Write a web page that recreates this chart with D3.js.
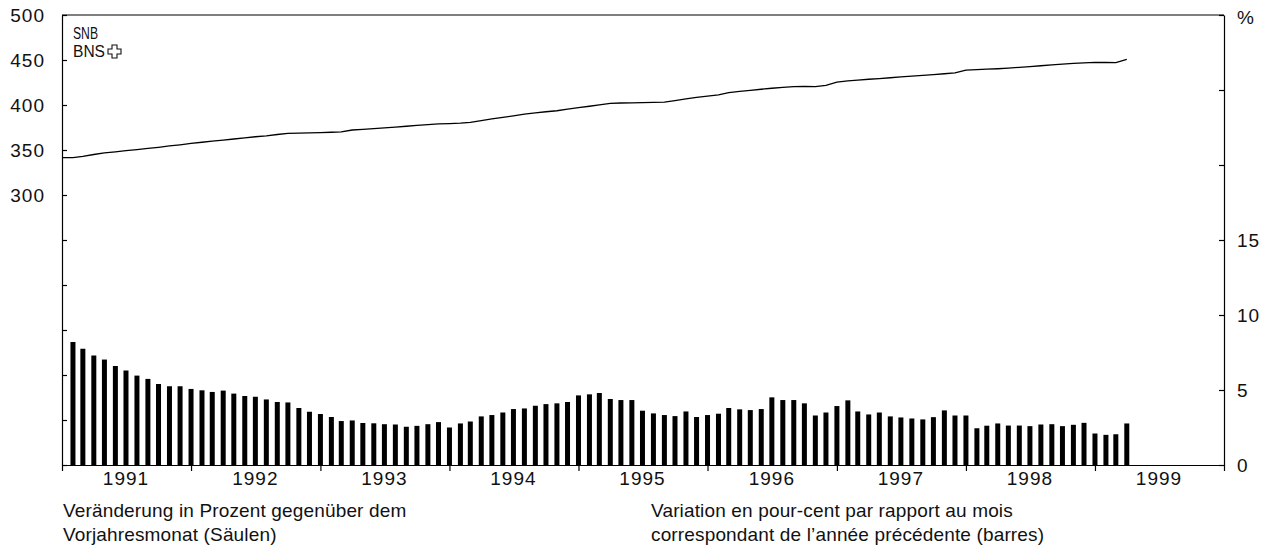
<!DOCTYPE html>
<html>
<head>
<meta charset="utf-8">
<script src="https://cdn.jsdelivr.net/npm/d3@7"></script>
<style>
  body { margin: 0; background: #fff; }
  svg { display: block; font-family: "Liberation Sans", Arial, sans-serif; }
  .axis text { font-size: 19px; fill: #111; letter-spacing: 1px; }
  .axis line, .axis path { stroke: #000; stroke-width: 1.2; }
  .note { font-size: 19px; fill: #111; letter-spacing: 0.15px; }
</style>
</head>
<body>
<svg width="1266" height="547"></svg>
<script>
// monthly change vs. same month of previous year, %, Jan 1991 - Mar 1999 (bars)
var change = [
  8.2, 7.75, 7.3, 7.03, 6.6, 6.3, 5.96, 5.74, 5.4, 5.25, 5.25, 5.07,
  4.98, 4.87, 4.96, 4.76, 4.6, 4.55, 4.37, 4.2, 4.17, 3.8, 3.55, 3.4,
  3.2, 2.93, 2.97, 2.8, 2.78, 2.72, 2.7, 2.55, 2.61, 2.72, 2.86, 2.5,
  2.77, 2.9, 3.24, 3.33, 3.5, 3.73, 3.77, 3.95, 4.06, 4.11, 4.2, 4.64,
  4.71, 4.8, 4.4, 4.33, 4.33, 3.62, 3.44, 3.33, 3.26, 3.57, 3.2, 3.33,
  3.42, 3.8, 3.71, 3.66, 3.73, 4.51, 4.33, 4.33, 4.11, 3.3, 3.5, 3.93,
  4.31, 3.57, 3.37, 3.5, 3.24, 3.17, 3.1, 3.04, 3.19, 3.64, 3.3, 3.3,
  2.45, 2.62, 2.77, 2.63, 2.63, 2.59, 2.7, 2.72, 2.59, 2.68, 2.81, 2.1,
  2.01, 2.05, 2.77
];

// level (left scale), Dec 1990 - Mar 1999 (line)
var level = [
  341.5,
  341.6, 343, 345, 346.7, 348, 349.3, 350.5, 351.8, 353, 354.5, 355.8, 357.3,
  358.6, 359.8, 361, 362.2, 363.4, 364.7, 365.8, 367.2, 368.4, 368.8, 369.1, 369.4,
  369.7, 370.2, 372.2, 373, 373.8, 374.6, 375.5, 376.4, 377.3, 378.1, 379, 379.4,
  379.8, 380.6, 382.6, 384.5, 386.3, 388, 389.8, 391.2, 392.5, 393.6, 395.4, 397,
  398.6, 400.2, 401.9, 402.2, 402.4, 402.7, 402.9, 403.2, 404.8, 406.7, 408.5, 409.8,
  411.2, 413.7, 415.1, 416.3, 417.5, 418.6, 419.5, 420.4, 420.8, 420.4, 421.8, 425.4,
  426.8, 427.6, 428.6, 429.4, 430.3, 431.2, 432, 432.9, 433.8, 434.7, 435.6, 438.7,
  439.3, 439.8, 440.3, 441, 441.8, 442.7, 443.6, 444.5, 445.4, 446.2, 446.9, 447.4,
  447.2, 447.1, 450.8
];

var years = [1991, 1992, 1993, 1994, 1995, 1996, 1997, 1998, 1999];
var leftTicks = [0, 50, 100, 150, 200, 250, 300, 350, 400, 450, 500];
var rightTicks = [0, 5, 10, 15, 20, 25, 30];

var textDe = ["Veränderung in Prozent gegenüber dem", "Vorjahresmonat (Säulen)"];
var textFr = ["Variation en pour-cent par rapport au mois", "correspondant de l’année précédente (barres)"];

const plotL = 62, plotR = 1224, plotT = 15, plotB = 465;

const svg = d3.select("svg");

const x = d3.scaleTime()
  .domain([new Date(1991, 0, 1), new Date(2000, 0, 1)])
  .range([plotL, plotR]);
const yL = d3.scaleLinear().domain([0, 500]).range([plotB, plotT]);
const yR = d3.scaleLinear().domain([0, 30]).range([plotB, plotT]);

// bars sit at the end of each month
const barMonths = change.map((v, i) => d3.timeMonth.offset(new Date(1991, 0, 1), i + 1));
const lineMonths = level.map((v, i) => d3.timeMonth.offset(new Date(1991, 0, 1), i));

svg.append("g")
  .selectAll("rect")
  .data(change)
  .join("rect")
  .attr("x", (d, i) => x(barMonths[i]) - 2.5)
  .attr("width", 5)
  .attr("y", d => yR(d))
  .attr("height", d => yR(0) - yR(d))
  .attr("fill", "#000");

svg.append("path")
  .datum(level)
  .attr("fill", "none")
  .attr("stroke", "#000")
  .attr("stroke-width", 1.3)
  .attr("d", d3.line().x((d, i) => x(lineMonths[i])).y(d => yL(d)));

// frame top
svg.append("line")
  .attr("x1", plotL).attr("x2", plotR)
  .attr("y1", plotT).attr("y2", plotT)
  .attr("stroke", "#000").attr("stroke-width", 1.2);

svg.append("g")
  .attr("class", "axis")
  .attr("transform", `translate(${plotL},0)`)
  .call(d3.axisLeft(yL).tickValues(leftTicks).tickSize(-5).tickSizeOuter(0).tickPadding(17)
    .tickFormat(d => d >= 300 ? d : ""));

svg.append("g")
  .attr("class", "axis")
  .attr("transform", `translate(${plotR},0)`)
  .call(d3.axisRight(yR).tickValues(rightTicks).tickSize(-5).tickSizeOuter(0).tickPadding(13)
    .tickFormat(d => d <= 15 ? d : ""));

svg.append("g")
  .attr("class", "axis")
  .attr("transform", `translate(0,${plotB})`)
  .call(d3.axisBottom(x).tickValues(years.map(y => new Date(y, 0, 1)).concat([new Date(2000, 0, 1)]))
    .tickSize(6).tickSizeOuter(0).tickFormat(""));

svg.append("g")
  .attr("class", "axis")
  .selectAll("text")
  .data(years)
  .join("text")
  .attr("x", d => x(new Date(d, 6, 1)))
  .attr("y", 485)
  .attr("text-anchor", "middle")
  .text(d => d);

svg.append("text")
  .attr("class", "note")
  .attr("x", 1237).attr("y", 24)
  .text("%");

// bank logo
const logo = svg.append("g").attr("fill", "#111");
logo.append("text").attr("x", 73).attr("y", 39)
  .attr("textLength", 25).attr("lengthAdjust", "spacingAndGlyphs")
  .style("font-size", "16px").text("SNB");
logo.append("text").attr("x", 73).attr("y", 57)
  .attr("textLength", 32).attr("lengthAdjust", "spacingAndGlyphs")
  .style("font-size", "16px").text("BNS");
logo.append("path")
  .attr("d", "M112,45 h5 v4 h4 v5 h-4 v4 h-5 v-4 h-4 v-5 h4 z")
  .attr("fill", "none").attr("stroke", "#111").attr("stroke-width", 1.1);

svg.append("g").selectAll("text")
  .data(textDe).join("text")
  .attr("class", "note")
  .attr("x", 63).attr("y", (d, i) => 517 + i * 24)
  .text(d => d);

svg.append("g").selectAll("text")
  .data(textFr).join("text")
  .attr("class", "note")
  .attr("x", 651).attr("y", (d, i) => 517 + i * 24)
  .text(d => d);
</script>
</body>
</html>
